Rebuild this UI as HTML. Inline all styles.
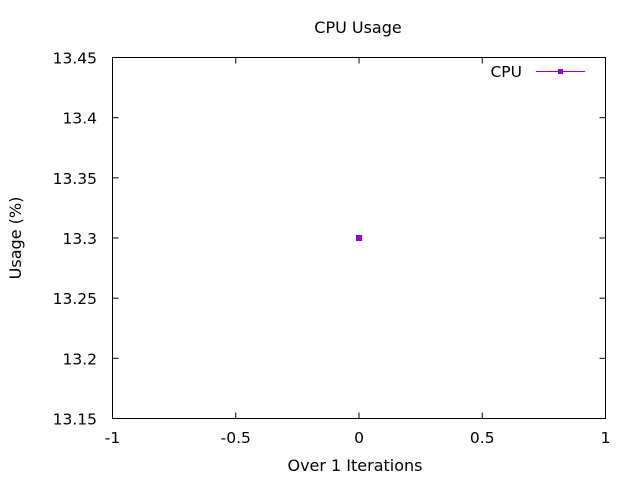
<!DOCTYPE html>
<html><head><meta charset="utf-8"><style>
body{margin:0;background:#fff;}
svg{display:block;font-family:"DejaVu Sans","Liberation Sans",sans-serif;}
</style></head><body>
<svg id="chart" width="640" height="480" xmlns="http://www.w3.org/2000/svg">
<text x="358" y="33" font-size="16" text-anchor="middle">CPU Usage</text>
<text x="21" y="238" font-size="16" text-anchor="middle" transform="rotate(-90 21 238)">Usage (%)</text>
<text x="355" y="471" font-size="16" text-anchor="middle">Over 1 Iterations</text>
<rect x="112.5" y="57.5" width="493" height="361" fill="none" stroke="#000" stroke-width="1"/>
<g id="ticks"></g>
<g id="marks"></g>
<g>
<text x="522" y="77" font-size="15.5" text-anchor="end">CPU</text>
<line x1="536" y1="71.5" x2="585" y2="71.5" stroke="#9400d3" stroke-width="1"/>
<rect x="558" y="69" width="5" height="5" fill="#9400d3"/>
</g>
</svg>
<script>
const xTicks=[-1,-0.5,0,0.5,1];
const xTickLabels=["-1","-0.5","0","0.5","1"];
const yTicks=[13.15,13.2,13.25,13.3,13.35,13.4,13.45];
const yTickLabels=["13.15","13.2","13.25","13.3","13.35","13.4","13.45"];
const iterations=[0];
const cpuValues=[13.3];
const X0=112.5,X1=605.5,Y0=418.5,Y1=57.5;
function xs(v){return X0+(v-(-1))/(2)*(X1-X0);}
function ys(v){return Y0-(v-13.15)/(0.3)*(Y0-Y1);}
const NS="http://www.w3.org/2000/svg";
const tg=document.getElementById('ticks');
function mk(tag,attrs,parent){const e=document.createElementNS(NS,tag);for(const k in attrs)e.setAttribute(k,attrs[k]);parent.appendChild(e);return e;}
xTicks.forEach((t,i)=>{
 const x=xs(t);
 const a=mk('line',{x1:x,y1:Y0,x2:x,y2:Y0-6,stroke:'#000'},tg);
 
 
 const b=mk('line',{x1:x,y1:Y1,x2:x,y2:Y1+6,stroke:'#000'},tg);
 
 
 const l=mk('text',{x:x,y:443,'font-size':15.5,'text-anchor':'middle'},tg);
 l.textContent=xTickLabels[i];
 
 
});
yTicks.forEach((t,i)=>{
 const y=ys(t);
 const a=mk('line',{x1:X0,y1:y,x2:X0+6,y2:y,stroke:'#000'},tg);
 
 
 const b=mk('line',{x1:X1,y1:y,x2:X1-6,y2:y,stroke:'#000'},tg);
 
 
 const l=mk('text',{x:97,y:y+6,'font-size':15.5,'text-anchor':'end'},tg);
 l.textContent=yTickLabels[i];
 
 
});
const mg=document.getElementById('marks');
iterations.forEach((it,i)=>{
 const p=mk('rect',{x:xs(it)-3,y:ys(cpuValues[i])-3,width:6,height:6,fill:'#9400d3'},mg);
 
 
});
</script>
</body></html>
